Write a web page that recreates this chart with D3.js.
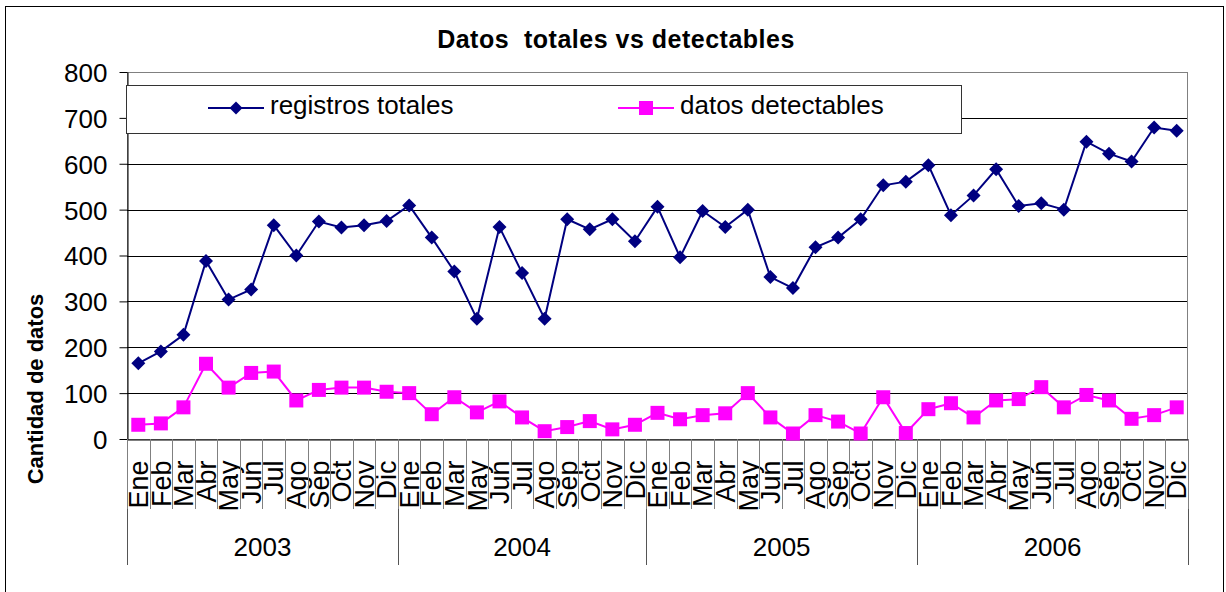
<!DOCTYPE html>
<html>
<head>
<meta charset="utf-8">
<script src="https://cdn.jsdelivr.net/npm/d3@7"></script>
<style>
  html, body { margin: 0; padding: 0; background: #fff; }
  svg { display: block; font-family: "Liberation Sans", Arial, sans-serif; }
</style>
</head>
<body>
<svg id="chart" width="1226" height="592"></svg>
<script>
// Month labels per year (April 2004 has no record)
const years = ["2003", "2004", "2005", "2006"];
const months2003 = ["Ene","Feb","Mar","Abr","May","Jun","Jul","Ago","Sep","Oct","Nov","Dic"];
const months2004 = ["Ene","Feb","Mar","May","Jun","Jul","Ago","Sep","Oct","Nov","Dic"];
const months2005 = ["Ene","Feb","Mar","Abr","May","Jun","Jul","Ago","Sep","Oct","Nov","Dic"];
const months2006 = ["Ene","Feb","Mar","Abr","May","Jun","Jul","Ago","Sep","Oct","Nov","Dic"];

// Series values, in month order
const registrosTotales = [
  165, 191, 227, 388, 304, 326, 466, 400, 474, 461, 466, 475,
  509, 439, 365, 262, 462, 362, 262, 479, 457, 479, 431,
  506, 396, 497, 462, 500, 353, 329, 418, 439, 479, 553, 561,
  597, 488, 531, 588, 508, 514, 500, 648, 622, 605, 679, 672
];
const datosDetectables = [
  31, 34, 69, 164, 112, 144, 147, 84, 107, 112, 112, 103,
  100, 54, 91, 58, 82, 47, 17, 26, 39, 21, 31,
  57, 43, 52, 56, 100, 47, 12, 52, 38, 12, 91, 13,
  65, 78, 47, 84, 87, 113, 69, 96, 84, 44, 52, 69
];

const yTicks = [0, 100, 200, 300, 400, 500, 600, 700, 800];

// Flatten the year/month structure into one category list
const monthsByYear = [months2003, months2004, months2005, months2006];
const cats = [];
monthsByYear.forEach((ms, yi) => ms.forEach(m => cats.push({ key: years[yi] + "-" + m, year: years[yi], month: m })));

const svg = d3.select("#chart");
const plot = { left: 127, right: 1188, top: 72, bottom: 439 };

const x = d3.scaleBand().domain(cats.map(c => c.key)).range([plot.left, plot.right]).padding(0);
const y = d3.scaleLinear().domain([0, 800]).range([plot.bottom, plot.top]);
const cx = i => x(cats[i].key) + x.bandwidth() / 2;

// Outer chart frame
svg.append("rect")
  .attr("x", 5.5).attr("y", 6.5).attr("width", 1218).attr("height", 620)
  .attr("fill", "#fff").attr("stroke", "#000").attr("stroke-width", 1);

// Title
svg.append("text")
  .attr("x", 616).attr("y", 48)
  .attr("text-anchor", "middle")
  .attr("font-size", 25).attr("font-weight", "bold")
  .attr("letter-spacing", 0.5)
  .style("white-space", "pre")
  .text("Datos  totales vs detectables");

// Plot area frame
svg.append("rect")
  .attr("x", plot.left + 0.5).attr("y", plot.top + 0.5)
  .attr("width", plot.right - plot.left - 1).attr("height", plot.bottom - plot.top)
  .attr("fill", "#fff").attr("stroke", "#808080").attr("stroke-width", 1);

// Horizontal gridlines
svg.append("g")
  .selectAll("line")
  .data(yTicks.filter(v => v > 0 && v < 800))
  .join("line")
  .attr("x1", plot.left).attr("x2", plot.right - 1)
  .attr("y1", d => Math.round(y(d)) + 0.5).attr("y2", d => Math.round(y(d)) + 0.5)
  .attr("stroke", "#000").attr("stroke-width", 1);

// Y axis
const yAxis = svg.append("g")
  .attr("transform", `translate(${plot.left + 0.5},0)`)
  .call(d3.axisLeft(y).tickValues(yTicks).tickSize(8).tickPadding(12).tickSizeOuter(0));
yAxis.select(".domain").attr("stroke", "#000");
yAxis.selectAll(".tick line").attr("stroke", "#000");
yAxis.selectAll(".tick text")
  .attr("font-size", 26).attr("fill", "#000")
  .attr("font-family", "Liberation Sans, Arial, sans-serif")
  .attr("dy", "0.36em");

// Y axis title
svg.append("text")
  .attr("transform", "translate(43,389) rotate(-90)")
  .attr("text-anchor", "middle")
  .attr("font-size", 22).attr("font-weight", "bold")
  .text("Cantidad de datos");

// X axis: month labels from the band scale
const xAxis = svg.append("g")
  .attr("transform", `translate(0,${plot.bottom + 0.5})`)
  .call(d3.axisBottom(x).tickSize(0).tickFormat(k => k.split("-")[1]));
xAxis.select(".domain").attr("stroke", "#000");
xAxis.selectAll(".tick text")
  .attr("font-size", 27).attr("fill", "#000")
  .attr("font-family", "Liberation Sans, Arial, sans-serif")
  .attr("text-anchor", "end")
  .attr("transform", "translate(0,21) rotate(-90)")
  .attr("x", 0).attr("y", 0).attr("dy", "0.36em");

// Month separators
const bounds = d3.range(cats.length + 1).map(i => i < cats.length ? x(cats[i].key) : plot.right);
svg.append("g")
  .selectAll("line")
  .data(bounds)
  .join("line")
  .attr("x1", d => Math.round(d) + 0.5).attr("x2", d => Math.round(d) + 0.5)
  .attr("y1", plot.bottom).attr("y2", 509)
  .attr("stroke", "#808080").attr("stroke-width", 1);

// Year separators and year labels
let start = 0;
const yearSpans = monthsByYear.map((ms, yi) => {
  const s = { year: years[yi], i0: start, i1: start + ms.length };
  start += ms.length;
  return s;
});
const yearEdges = [plot.left].concat(yearSpans.map(s => s.i1 < cats.length ? x(cats[s.i1].key) : plot.right));
svg.append("g")
  .selectAll("line")
  .data(yearEdges)
  .join("line")
  .attr("x1", d => Math.round(d) + 0.5).attr("x2", d => Math.round(d) + 0.5)
  .attr("y1", 509).attr("y2", 565)
  .attr("stroke", "#555").attr("stroke-width", 1);
svg.append("g")
  .selectAll("text")
  .data(yearSpans)
  .join("text")
  .attr("x", s => (x(cats[s.i0].key) + (s.i1 < cats.length ? x(cats[s.i1].key) : plot.right)) / 2)
  .attr("y", 556)
  .attr("text-anchor", "middle")
  .attr("font-size", 26)
  .text(s => s.year);

// Marker shapes
const diamond = s => `M0,${-s}L${s},0L0,${s}L${-s},0Z`;
const square = s => `M${-s},${-s}H${s}V${s}H${-s}Z`;

const navy = "#000080", magenta = "#FF00FF";
const line = d3.line().x((d, i) => cx(i)).y(d => y(d));

// Series: registros totales
svg.append("path").datum(registrosTotales)
  .attr("d", line).attr("fill", "none").attr("stroke", navy).attr("stroke-width", 2);
svg.append("g").selectAll("path")
  .data(registrosTotales).join("path")
  .attr("transform", (d, i) => `translate(${cx(i)},${y(d)})`)
  .attr("d", diamond(7)).attr("fill", navy);

// Series: datos detectables
svg.append("path").datum(datosDetectables)
  .attr("d", line).attr("fill", "none").attr("stroke", magenta).attr("stroke-width", 2);
svg.append("g").selectAll("path")
  .data(datosDetectables).join("path")
  .attr("transform", (d, i) => `translate(${cx(i)},${y(d)})`)
  .attr("d", square(7)).attr("fill", magenta);

// Legend
const lg = svg.append("g");
lg.append("rect")
  .attr("x", 126.5).attr("y", 85.5).attr("width", 835).attr("height", 48)
  .attr("fill", "#fff").attr("stroke", "#333").attr("stroke-width", 1);
const legendItems = [
  { label: "registros totales", color: navy, shape: diamond(6.5), x0: 208 },
  { label: "datos detectables", color: magenta, shape: square(7), x0: 618 }
];
legendItems.forEach(it => {
  lg.append("line")
    .attr("x1", it.x0).attr("x2", it.x0 + 56).attr("y1", 108).attr("y2", 108)
    .attr("stroke", it.color).attr("stroke-width", 2);
  lg.append("path")
    .attr("transform", `translate(${it.x0 + 28},108)`)
    .attr("d", it.shape).attr("fill", it.color);
  lg.append("text")
    .attr("x", it.x0 + 62).attr("y", 114)
    .attr("font-size", 26)
    .text(it.label);
});
</script>
</body>
</html>
